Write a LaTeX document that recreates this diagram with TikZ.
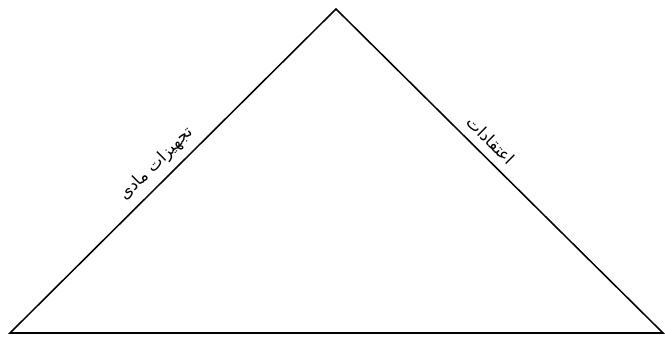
\documentclass[tikz,border=0pt]{standalone}
\usepackage{fontspec}
\newfontfamily\arabicfont[Script=Arabic]{DejaVu Sans}
\TeXXeTstate=1
\usetikzlibrary{positioning}
\tikzset{edgelabel/.style={sloped,above,inner sep=2pt,font=\arabicfont\fontsize{14}{16}\selectfont}}

\begin{document}
\begin{tikzpicture}[x=0.03cm,y=-0.03cm]
\useasboundingbox (0,0) rectangle (665,337);
\coordinate (left) at (10,333);
\coordinate (apex) at (336,9);
\coordinate (right) at (663,333);
\draw[line width=1.3pt,line join=miter] (left)--(apex)--(right)--cycle;
\path (left)--(apex) node[edgelabel,pos=0.485,yshift=5pt] (material) {\beginR تجهیزات مادی\endR};
\path (apex)--(right) node[edgelabel,pos=0.44,yshift=6pt] (beliefs) {\beginR اعتقادات\endR};
\end{tikzpicture}
\end{document}
